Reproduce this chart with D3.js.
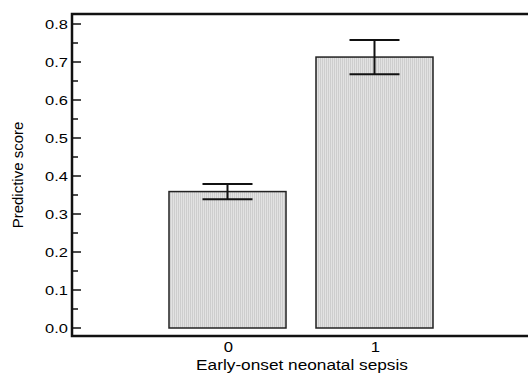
<!DOCTYPE html>
<meta charset="utf-8">
<style>
body { margin: 0; background: #fff; }
text { font-family: "Liberation Sans", Arial, sans-serif; fill: #000; }
</style>
<body>
<svg width="528" height="377"></svg>
<script src="https://cdnjs.cloudflare.com/ajax/libs/d3/7.8.5/d3.min.js"></script>
<script>

var groups = ["0", "1"];
var means = [0.359, 0.713];
var upper = [0.379, 0.758];
var lower = [0.339, 0.668];
var yTicks = [0, 0.1, 0.2, 0.3, 0.4, 0.5, 0.6, 0.7, 0.8];

var svg = d3.select("svg");

var x = d3.scaleBand()
    .domain(groups)
    .range([169, 433])
    .paddingInner(0.204)
    .paddingOuter(0);

var y = d3.scaleLinear()
    .domain([0, 0.8])
    .range([328, 24]);

var frameL = 72, frameT = 14, frameB = 336, frameR = 528;

// bar fill pattern (fine vertical hatch)
var pat = svg.append("defs").append("pattern")
    .attr("id", "hatch")
    .attr("patternUnits", "userSpaceOnUse")
    .attr("width", 2).attr("height", 4);
pat.append("rect").attr("width", 2).attr("height", 4).attr("fill", "#e2e2e2");
pat.append("rect").attr("width", 1).attr("height", 4).attr("fill", "#cdcdcd");

// bars
svg.selectAll("rect.bar")
    .data(groups)
  .enter().append("rect")
    .attr("class", "bar")
    .attr("x", function(d) { return x(d); })
    .attr("y", function(d, i) { return y(means[i]); })
    .attr("width", x.bandwidth())
    .attr("height", function(d, i) { return y(0) - y(means[i]); })
    .attr("fill", "url(#hatch)")
    .attr("stroke", "#222")
    .attr("stroke-width", 1.5);

// error bars
var capW = 50;
var eb = svg.selectAll("g.err")
    .data(groups)
  .enter().append("g")
    .attr("class", "err")
    .attr("stroke", "#111")
    .attr("stroke-width", 2);
eb.append("line")
    .attr("x1", function(d) { return x(d) + x.bandwidth() / 2; })
    .attr("x2", function(d) { return x(d) + x.bandwidth() / 2; })
    .attr("y1", function(d, i) { return y(upper[i]); })
    .attr("y2", function(d, i) { return y(lower[i]); });
eb.append("line")
    .attr("x1", function(d) { return x(d) + x.bandwidth() / 2 - capW / 2; })
    .attr("x2", function(d) { return x(d) + x.bandwidth() / 2 + capW / 2; })
    .attr("y1", function(d, i) { return y(upper[i]); })
    .attr("y2", function(d, i) { return y(upper[i]); });
eb.append("line")
    .attr("x1", function(d) { return x(d) + x.bandwidth() / 2 - capW / 2; })
    .attr("x2", function(d) { return x(d) + x.bandwidth() / 2 + capW / 2; })
    .attr("y1", function(d, i) { return y(lower[i]); })
    .attr("y2", function(d, i) { return y(lower[i]); });

// frame: top, left, bottom (right side open)
svg.append("path")
    .attr("d", "M" + frameR + "," + frameT + "H" + frameL + "V" + frameB + "H" + frameR)
    .attr("fill", "none")
    .attr("stroke", "#111")
    .attr("stroke-width", 2.5);

// y ticks (inside), major + minor
var minor = d3.range(0.05, 0.8, 0.1);
svg.selectAll("line.minor")
    .data(minor)
  .enter().append("line")
    .attr("x1", frameL).attr("x2", frameL + 6)
    .attr("y1", function(d) { return y(d); })
    .attr("y2", function(d) { return y(d); })
    .attr("stroke", "#111").attr("stroke-width", 1.5);
svg.selectAll("line.major")
    .data(yTicks)
  .enter().append("line")
    .attr("x1", frameL).attr("x2", frameL + 9)
    .attr("y1", function(d) { return y(d); })
    .attr("y2", function(d) { return y(d); })
    .attr("stroke", "#111").attr("stroke-width", 1.5);

svg.selectAll("text.ytick")
    .data(yTicks)
  .enter().append("text")
    .attr("transform", function(d) { return "translate(68," + (y(d) + 4.8) + ") scale(1.22,1)"; })
    .attr("text-anchor", "end")
    .style("font-size", "13.5px")
    .text(function(d) { return d.toFixed(1); });

// x tick labels
svg.selectAll("text.xtick")
    .data(groups)
  .enter().append("text")
    .attr("transform", function(d) { return "translate(" + (x(d) + x.bandwidth() / 2 + 1) + ",352) scale(1.15,1)"; })
    .attr("text-anchor", "middle")
    .style("font-size", "14.5px")
    .text(function(d) { return d; });

svg.append("text")
    .attr("transform", "translate(302,370) scale(1.15,1)")
    .attr("text-anchor", "middle")
    .style("font-size", "15px")
    .text("Early-onset neonatal sepsis");

svg.append("text")
    .attr("transform", "translate(23,175) rotate(-90)")
    .attr("text-anchor", "middle")
    .style("font-size", "15px")
    .text("Predictive score");

</script>
</body>
